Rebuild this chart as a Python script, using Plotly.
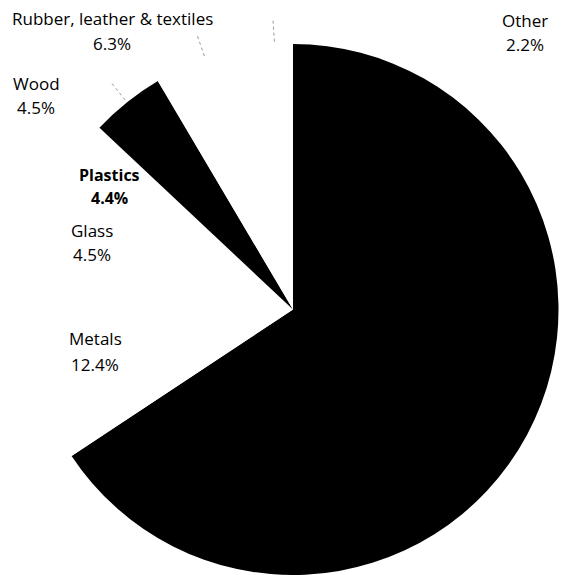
import math
import plotly.graph_objects as go

# ---- data ----
categories = ["Paper & paperboard", "Metals", "Glass", "Plastics", "Wood",
              "Rubber, leather & textiles", "Other"]
shares = [65.7, 12.4, 4.5, 4.4, 4.5, 6.3, 2.2]
value_labels = ["65.7%", "12.4%", "4.5%", "4.4%", "4.5%", "6.3%", "2.2%"]

# ---- styling ----
slice_colors = ["#000000", "#ffffff", "#ffffff", "#ffffff", "#000000", "#ffffff", "#ffffff"]
W, H = 561, 575
CX, CY, R = 293, 309.5, 265.5

# label placement (pixel centers: name line, value line) – none for the big slice
label_pos = {
    "Metals": (95, 338, 364),
    "Glass": (92, 230, 254),
    "Plastics": (109, 175, 198),
    "Wood": (36, 84, 108),
    "Rubber, leather & textiles": (112, 19, 43),
    "Other": (525, 21, 44),
}
bold_labels = {"Plastics"}
leader_slices = {"Wood", "Rubber, leather & textiles", "Other"}

fig = go.Figure(go.Pie(
    labels=categories,
    values=shares,
    sort=False,
    direction="clockwise",
    rotation=0,
    marker=dict(colors=slice_colors, line=dict(width=0)),
    textinfo="none",
    hoverinfo="skip",
    showlegend=False,
    domain=dict(x=[(CX - R) / W, (CX + R) / W], y=[0, 2 * R / H]),
))

def px(x):
    return x / W

def py(y):
    return 1 - y / H

annotations = []
for cat, val in zip(categories, value_labels):
    if cat not in label_pos:
        continue
    x, y1, y2 = label_pos[cat]
    if cat in bold_labels:
        f = dict(family="Open Sans", size=16, color="black", weight="bold")
        t1, t2 = f"<b>{cat}</b>", f"<b>{val}</b>"
    else:
        f = dict(family="Open Sans", size=17, color="black")
        t1, t2 = cat, val
    for t, y in ((t1, y1), (t2, y2)):
        annotations.append(dict(x=px(x), y=py(y), xref="paper", yref="paper",
                                text=t, showarrow=False, font=f,
                                xanchor="center", yanchor="middle"))

# radial dotted leader lines from slice edges
shapes = []
total = sum(shares)
cum = 0.0
for cat, v in zip(categories, shares):
    mid = (cum + v / 2) / total * 2 * math.pi
    cum += v
    if cat not in leader_slices:
        continue
    r0, r1 = R + 3, R + 24
    x0, y0 = CX + r0 * math.sin(mid), CY - r0 * math.cos(mid)
    x1, y1 = CX + r1 * math.sin(mid), CY - r1 * math.cos(mid)
    shapes.append(dict(type="line", xref="paper", yref="paper",
                       x0=px(x0), y0=py(y0), x1=px(x1), y1=py(y1),
                       line=dict(color="#9a9a9a", width=1, dash="dot")))

fig.update_layout(
    width=W, height=H,
    margin=dict(l=0, r=0, t=0, b=0),
    paper_bgcolor="white",
    plot_bgcolor="white",
    annotations=annotations,
    shapes=shapes,
)

fig.write_html("out.html")
